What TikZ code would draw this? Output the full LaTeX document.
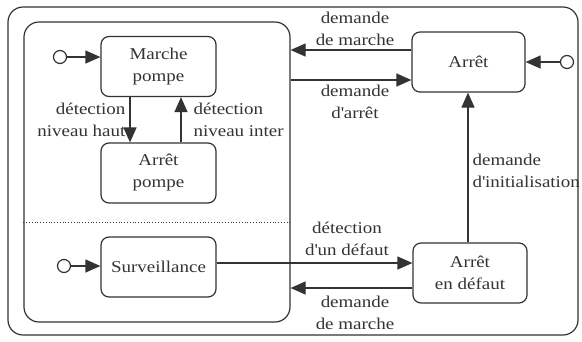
\documentclass[tikz,border=0pt]{standalone}
\usepackage{fontspec}
\setmainfont{Liberation Serif}[FakeStretch=1.15]
\usetikzlibrary{arrows.meta,calc}
\begin{document}
\begin{tikzpicture}[x=1pt,y=-1pt,
  line width=1.2pt,
  every node/.style={font=\fontsize{16.5}{22}\selectfont, text=black!80},
  statebox/.style={draw=black!80, rounded corners=8pt, minimum width=115pt, minimum height=60pt, align=center, inner sep=0pt},
  superbox/.style={draw=black!80, rounded corners=15pt, inner sep=0pt},
  initdot/.style={draw=black!80, circle, minimum size=13pt, inner sep=0pt, fill=white},
  arr/.style={draw=black!80, -{Triangle[length=15pt,width=13pt]}},
  lbl/.style={align=center, inner sep=0pt}
]
\useasboundingbox (0,0) rectangle (582,341);
\fill[white] (0,0) rectangle (582,341);

% superstates
\node[superbox, minimum width=570pt, minimum height=328pt] (outer) at (293,171) {};
\node[superbox, minimum width=266pt, minimum height=300pt] (inner) at (157,172) {};

% states
\node[statebox] (mp) at (158.5,66.5) {Marche\\pompe};
\node[statebox] (ap) at (158.5,173) {Arrêt\\pompe};
\node[statebox] (surv) at (158.5,267) {Surveillance};
\node[statebox, minimum width=113pt] (arret) at (468.5,62) {Arrêt};
\node[statebox, minimum width=114pt] (ad) at (470,273) {Arrêt\\en défaut};

% initial pseudostates
\node[initdot] (i1) at (60,57) {};
\node[initdot] (i2) at (64,266) {};
\node[initdot] (i3) at (567,62) {};

% helper coordinates
\coordinate (ydm1) at (0,50);
\coordinate (yda) at (0,80);
\coordinate (ydd) at (0,263);
\coordinate (ydm2) at (0,288);
\coordinate (xh) at (130,0);
\coordinate (xi) at (181,0);
\coordinate (xin) at (468,0);
\coordinate (ydot) at (0,222);

% dotted separator
\draw[black!80, line width=0.8pt, dotted] (inner.west |- ydot) -- (inner.east |- ydot);

% initial transitions
\draw[arr] (i1) -- (mp.west |- i1);
\draw[arr] (i2) -- (surv.west |- i2);
\draw[arr] (i3) -- (arret.east |- i3);

% internal transitions
\draw[arr] (mp.south -| xh) -- (ap.north -| xh);
\draw[arr] (ap.north -| xi) -- (mp.south -| xi);
\node[lbl, anchor=east, align=right] (lh) at (126,120) {détection\\niveau haut};
\node[lbl, anchor=west, align=left] (li) at (193,120) {détection\\niveau inter};

% transitions with Arrêt
\draw[arr] (arret.west |- ydm1) -- (inner.east |- ydm1);
\node[lbl] (ldm1) at (355,29) {demande\\de marche};
\draw[arr] (inner.east |- yda) -- (arret.west |- yda);
\node[lbl] (lda) at (355,102) {demande\\d\textquotesingle arrêt};

% Arrêt en défaut
\draw[arr] (ad.north -| xin) -- (arret.south -| xin);
\node[lbl, anchor=west, align=left] (lin) at (472,171) {demande\\d\textquotesingle initialisation};
\draw[arr] (surv.east |- ydd) -- (ad.west |- ydd);
\node[lbl] (ldd) at (347,239) {détection\\d\textquotesingle un défaut};
\draw[arr] (ad.west |- ydm2) -- (inner.east |- ydm2);
\node[lbl] (ldm2) at (355,313) {demande\\de marche};
\end{tikzpicture}
\end{document}
